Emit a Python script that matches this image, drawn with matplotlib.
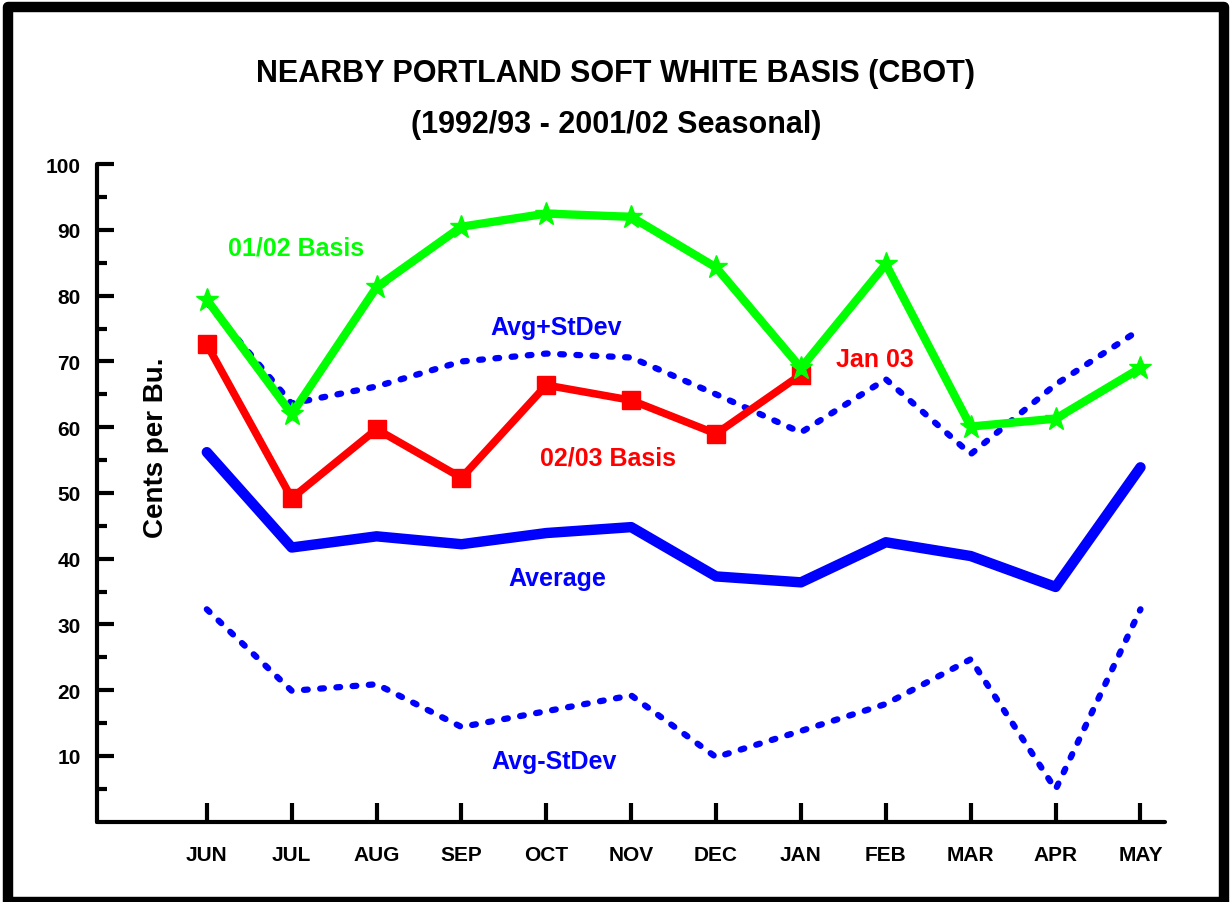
import matplotlib
matplotlib.use("Agg")
import matplotlib.pyplot as plt
from matplotlib.patches import Rectangle

# ==========================================================
# DATA
# ==========================================================
months = ["JUN", "JUL", "AUG", "SEP", "OCT", "NOV", "DEC", "JAN", "FEB", "MAR", "APR", "MAY"]

basis_0102 = [79.4, 62.0, 81.3, 90.5, 92.5, 92.0, 84.3, 69.0, 84.8, 60.1, 61.3, 69.0]
basis_0203 = [72.6, 49.2, 59.7, 52.3, 66.4, 64.1, 59.0, 68.0]
average = [56.2, 41.7, 43.4, 42.2, 43.9, 44.8, 37.3, 36.4, 42.5, 40.4, 35.7, 53.9]
avg_plus = [79.0, 63.6, 66.2, 70.0, 71.2, 70.6, 65.0, 59.2, 67.3, 55.9, 66.5, 74.9]
avg_minus = [32.3, 19.9, 20.9, 14.4, 16.8, 19.2, 9.8, 13.8, 17.9, 24.7, 4.9, 32.3]

yticks = [10, 20, 30, 40, 50, 60, 70, 80, 90, 100]

BLUE = "#0000FF"
GREEN = "#00FF00"
RED = "#FF0000"

plt.rcParams["font.family"] = ["Liberation Sans", "DejaVu Sans"]
plt.rcParams["font.weight"] = "bold"

# ==========================================================
# FIGURE
# ==========================================================
fig = plt.figure(figsize=(12.32, 9.03), dpi=100)
ax = fig.add_axes([0.079, 0.089, 0.8667, 0.728])

x = list(range(len(months)))
dots = (0, (0.6, 2.0))

ax.plot(x, avg_minus, color=BLUE, lw=4.5, linestyle=dots, dash_capstyle="round")
ax.plot(x, avg_plus, color=BLUE, lw=4.5, linestyle=dots, dash_capstyle="round")
ax.plot(x, average, color=BLUE, lw=7.5, solid_capstyle="round", solid_joinstyle="round")
ax.plot(x[:len(basis_0203)], basis_0203, color=RED, lw=5.5, marker="s", ms=13,
        solid_joinstyle="miter")
ax.plot(x, basis_0102, color=GREEN, lw=6, marker="*", ms=17, solid_joinstyle="miter")

# labels on the chart
lab = dict(fontsize=18, fontweight="bold", ha="center", va="center")
ax.text(1.05, 87.3, "01/02 Basis", color=GREEN, **lab)
ax.text(4.12, 75.2, "Avg+StDev", color=BLUE, **lab)
ax.text(7.87, 70.4, "Jan 03", color=RED, **lab)
ax.text(4.73, 55.4, "02/03 Basis", color=RED, **lab)
ax.text(4.13, 37.0, "Average", color=BLUE, **lab)
ax.text(4.09, 9.2, "Avg-StDev", color=BLUE, **lab)

# axes styling
ax.set_xlim(-1.29, 11.29)
ax.set_ylim(0, 100)
ax.set_xticks(x)
ax.set_xticklabels(months)
ax.set_yticks(yticks)
ax.set_yticks(list(range(5, 100, 10)), minor=True)

for side in ["top", "right"]:
    ax.spines[side].set_visible(False)
for side in ["left", "bottom"]:
    ax.spines[side].set_linewidth(3)
    ax.spines[side].set_capstyle("round")

ax.tick_params(axis="x", direction="in", length=14, width=3, pad=17, labelsize=15)
ax.tick_params(axis="y", which="major", direction="in", length=12, width=3, pad=12, labelsize=15)
ax.tick_params(axis="y", which="minor", direction="in", length=7, width=3)

ax.text(0.055, 0.571, "Cents per Bu.", transform=ax.transAxes, rotation=90,
        fontsize=20, fontweight="bold", ha="center", va="center")

fig.text(0.5, 0.918, "NEARBY PORTLAND SOFT WHITE BASIS (CBOT)", ha="center", va="center", fontsize=22)
fig.text(0.5, 0.862, "(1992/93 - 2001/02 Seasonal)", ha="center", va="center", fontsize=22)

# outer frame
fig.patches.append(Rectangle((8 / 1232, 0.0), (1224 - 8) / 1232, 1 - 8 / 903,
                             transform=fig.transFigure, fill=False, lw=7.5,
                             edgecolor="black", joinstyle="round"))

fig.savefig("out.png", dpi=100)
